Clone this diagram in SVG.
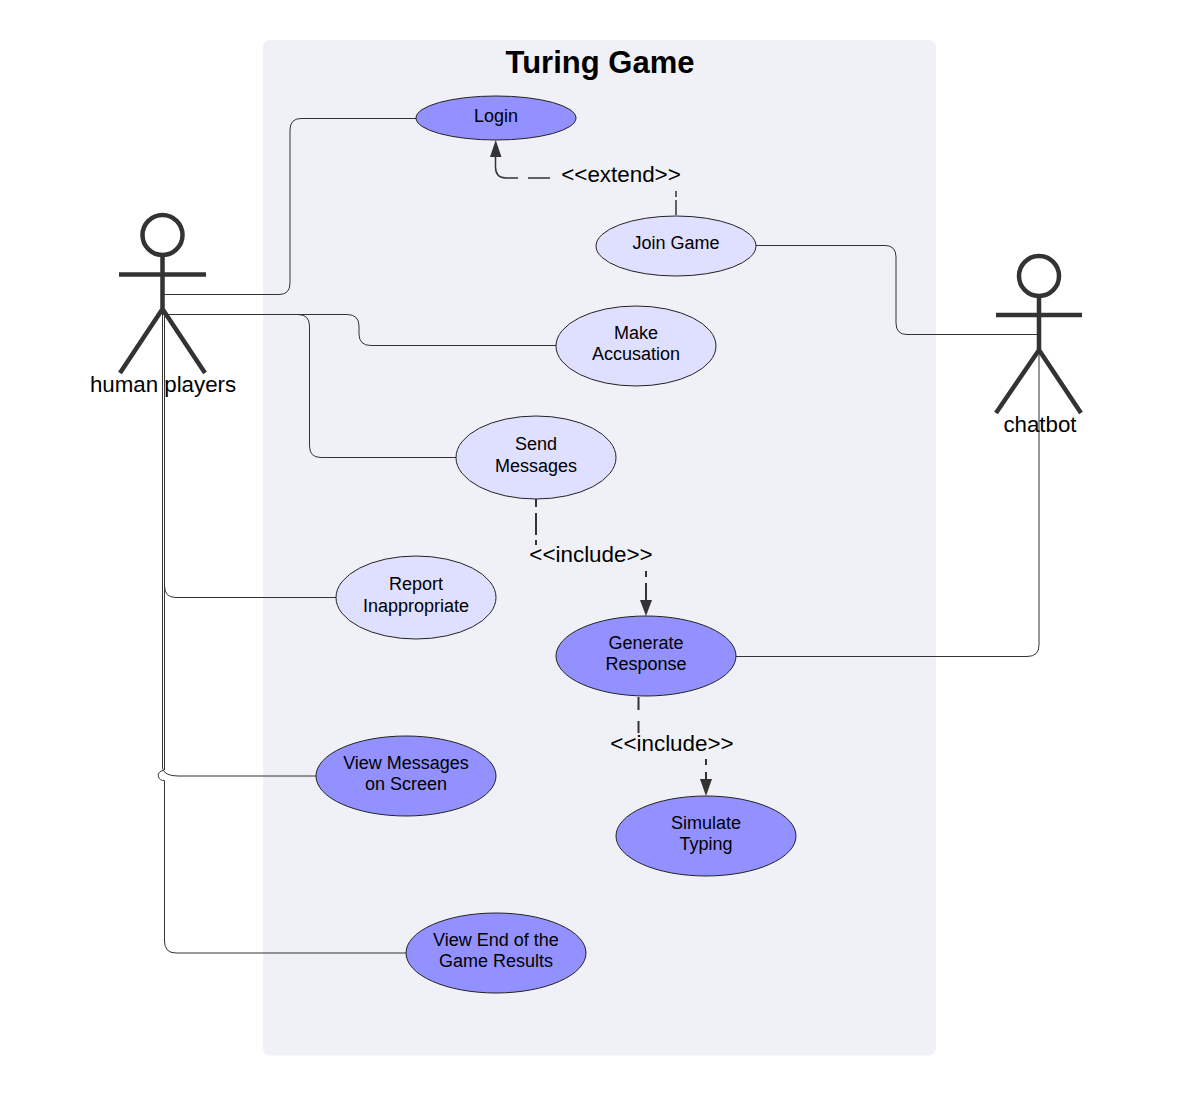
<svg xmlns="http://www.w3.org/2000/svg" width="1203" height="1097" viewBox="0 0 1203 1097">
<style>
text{font-family:"Liberation Sans",Arial,sans-serif;fill:#000;text-anchor:middle}
.n{font-size:18px}
.a{font-size:22.300px}
.e{font-size:22.400px}
.u{stroke:#333;stroke-width:1;fill:none}
.d{stroke:#333;stroke-width:2;fill:none}
.t{stroke:#333;stroke-width:1.500;fill:none}
.h{fill:#333}
.l{fill:#dfdfff;stroke:#222;stroke-width:1}
.m{fill:#9391ff;stroke:#222;stroke-width:1}
.s{stroke:#333;stroke-width:4.500;fill:none}
</style>
<rect x="263" y="40" width="673" height="1015.500" rx="7" fill="#f0f1f6"/>
<text x="600" y="72.500" style="font-size:31px;font-weight:bold">Turing Game</text>
<g id="connectors">
<path class="u" d="M163 294.500H279Q290 294.500 290 283V130Q290 118.500 301 118.500H416"/>
<path class="u" d="M163 314.500H347Q359 314.500 359 326V334Q359 345.500 371 345.500H556"/>
<path class="u" d="M163 314.500H298Q309.500 314.500 309.500 326V446Q309.500 457.500 321 457.500H456"/>
<path class="u" d="M164.500 310V586Q164.500 597.500 176 597.500H336"/>
<path class="u" d="M162.500 310V768Q164 776 178 776H316"/>
<path class="u" d="M164.500 310V770M163 770.500A5.500 5 0 0 0 164.500 780.500V941Q164.500 953 176 953H406"/>
<path class="u" d="M756 245.500H885Q896 245.500 896 257V323Q896 334.500 907 334.500H1039"/>
<path class="u" d="M736 656.500H1027Q1039 656.500 1039 645V350"/>
<path class="t" d="M550 178H528M518 178H506Q495.500 178 495.500 167V150"/>
<path class="t" d="M676 191V197M676 200V215"/>
<path class="h" d="M490 157L495.700 140L501.500 157Z"/>
<path class="d" d="M536 499V507M536 513V535M536 540V545"/>
<path class="d" d="M646 571V577M646 583V601"/>
<path class="h" d="M640 600L646 616L652 600Z"/>
<path class="d" d="M638.500 697V710M638.500 721V733"/>
<path class="d" d="M706 759V765M706 772V779"/>
<path class="h" d="M700 779L706 796L712 779Z"/>
</g>
<g id="actor-human"><circle class="s" cx="162.500" cy="235" r="20"/><path class="s" d="M162.500 255V309M119 274.500H206M162.500 309L120 373M162.500 309L205 373"/><text class="a" x="163" y="392">human players</text></g>
<g id="actor-chatbot"><circle class="s" cx="1039" cy="276" r="20"/><path class="s" d="M1039 296V350M996 315H1082M1039 350L996 413M1039 350L1081 413"/><text class="a" x="1040" y="432">chatbot</text></g>
<g id="login"><ellipse class="m" cx="496" cy="118" rx="80" ry="22"/><text class="n" x="496" y="122">Login</text></g>
<g id="join"><ellipse class="l" cx="676" cy="246" rx="80" ry="30"/><text class="n" x="676" y="249">Join Game</text></g>
<g id="accuse"><ellipse class="l" cx="636" cy="346" rx="80" ry="40"/><text class="n" x="636" y="339">Make</text><text class="n" x="636" y="360">Accusation</text></g>
<g id="send"><ellipse class="l" cx="536" cy="457.500" rx="80" ry="41.500"/><text class="n" x="536" y="450">Send</text><text class="n" x="536" y="472">Messages</text></g>
<g id="report"><ellipse class="l" cx="416" cy="597.500" rx="80" ry="41.500"/><text class="n" x="416" y="590">Report</text><text class="n" x="416" y="612">Inappropriate</text></g>
<g id="generate"><ellipse class="m" cx="646" cy="656" rx="90" ry="40"/><text class="n" x="646" y="649">Generate</text><text class="n" x="646" y="670">Response</text></g>
<g id="view"><ellipse class="m" cx="406" cy="776" rx="90" ry="40"/><text class="n" x="406" y="769">View Messages</text><text class="n" x="406" y="790">on Screen</text></g>
<g id="simulate"><ellipse class="m" cx="706" cy="836" rx="90" ry="40"/><text class="n" x="706" y="829">Simulate</text><text class="n" x="706" y="850">Typing</text></g>
<g id="results"><ellipse class="m" cx="496" cy="953" rx="90" ry="40"/><text class="n" x="496" y="946">View End of the</text><text class="n" x="496" y="967">Game Results</text></g>
<text class="e" x="621" y="182">&lt;&lt;extend&gt;&gt;</text>
<text class="e" x="591" y="562">&lt;&lt;include&gt;&gt;</text>
<text class="e" x="672" y="751">&lt;&lt;include&gt;&gt;</text>
</svg>
